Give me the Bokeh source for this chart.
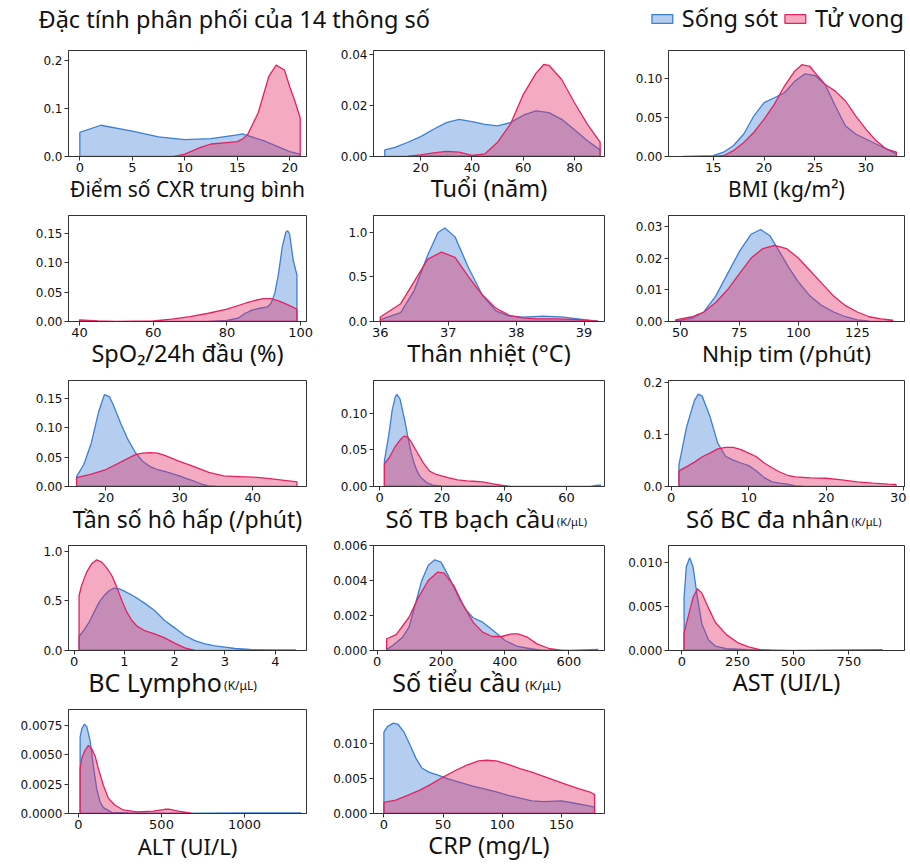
from bokeh.plotting import figure
from bokeh.models import Range1d, FixedTicker, Legend, LegendItem, Label, LinearAxis
from bokeh.layouts import column, row
from bokeh.embed import file_html
from bokeh.resources import INLINE

# ---------------- data ----------------
title_text = "Đặc tính phân phối của 14 thông số"
group_names = ["Sống sót", "Tử vong"]

# 1 CXR score
cxr_label = "Điểm số CXR trung bình"
cxr_xticks = [0, 5, 10, 15, 20]
cxr_yticks = [0.0, 0.1, 0.2]
cxr_ylabels = ["0.0", "0.1", "0.2"]
cxr_s_x = [0, 2, 5, 7.5, 10, 12.5, 15, 15.5, 17.5, 20, 21]
cxr_s_y = [0.05, 0.065, 0.053, 0.041, 0.035, 0.037, 0.045, 0.047, 0.033, 0.01, 0.005]
cxr_t_x = [9, 10, 11.5, 12.5, 14, 15, 15.5, 16, 17, 18, 18.7, 19.5, 20, 20.5, 21]
cxr_t_y = [0.0, 0.005, 0.019, 0.026, 0.029, 0.031, 0.036, 0.046, 0.091, 0.166, 0.19, 0.18, 0.145, 0.115, 0.08]

# 2 Age
age_label = "Tuổi (năm)"
age_xticks = [20, 40, 60, 80]
age_yticks = [0.0, 0.02, 0.04]
age_ylabels = ["0.00", "0.02", "0.04"]
age_s_x = [6, 10, 15, 20, 25, 30, 35, 40, 45, 50, 55, 60, 65, 70, 75, 80, 85, 90]
age_s_y = [0.0026, 0.0036, 0.0056, 0.0078, 0.0107, 0.0133, 0.0146, 0.0137, 0.0126, 0.012, 0.0133,
           0.0162, 0.0179, 0.0172, 0.0146, 0.0105, 0.0062, 0.0026]
age_t_x = [15, 20, 25, 30, 35, 40, 45, 50, 55, 60, 65, 68, 70, 75, 80, 85, 90]
age_t_y = [0.0001, 0.0006, 0.0014, 0.002, 0.0017, 0.0004, 0.001, 0.0056, 0.0127, 0.0243, 0.0327,
           0.0361, 0.0358, 0.0302, 0.0211, 0.0127, 0.0056]

# 3 BMI
bmi_label = "BMI (kg/m²)"
bmi_xticks = [15, 20, 25, 30]
bmi_yticks = [0.0, 0.05, 0.10]
bmi_ylabels = ["0.00", "0.05", "0.10"]
bmi_s_x = [12, 15, 16, 17, 18, 19, 20, 21, 22, 23, 24, 25, 26, 27, 28, 29, 30, 31, 32, 33]
bmi_s_y = [0.0, 0.001, 0.0055, 0.014, 0.0287, 0.052, 0.0688, 0.075, 0.0814, 0.096, 0.1055, 0.1034,
           0.092, 0.0646, 0.039, 0.0287, 0.0224, 0.016, 0.0097, 0.0034]
bmi_t_x = [15, 16, 17, 18, 19, 20, 21, 22, 23, 23.7, 24.5, 25, 26, 27, 28, 29, 30, 31, 32, 33]
bmi_t_y = [0.0, 0.001, 0.0076, 0.018, 0.031, 0.0477, 0.0667, 0.09, 0.109, 0.1173, 0.115, 0.107,
           0.092, 0.0835, 0.0709, 0.052, 0.035, 0.0203, 0.0097, 0.0055]

# 4 SpO2
spo2_label = "SpO₂/24h đầu (%)"
spo2_xticks = [40, 60, 80, 100]
spo2_yticks = [0.0, 0.05, 0.10, 0.15]
spo2_ylabels = ["0.00", "0.05", "0.10", "0.15"]
spo2_s_x = [75, 80, 83, 85, 87, 89, 91, 92, 93, 94, 95, 96, 96.5, 97, 98, 99]
spo2_s_y = [0.0, 0.0017, 0.0056, 0.014, 0.0197, 0.0225, 0.025, 0.031, 0.048, 0.081, 0.126, 0.152,
            0.154, 0.149, 0.104, 0.079]
spo2_t_x = [40, 45, 50, 55, 60, 65, 70, 75, 80, 85, 88, 90, 92, 94, 96, 98, 99]
spo2_t_y = [0.0028, 0.0011, 0.0, 0.0006, 0.0011, 0.004, 0.0084, 0.014, 0.021, 0.031, 0.0365, 0.039,
            0.039, 0.035, 0.03, 0.024, 0.0208]

# 5 Body temperature
temp_label = "Thân nhiệt (°C)"
temp_xticks = [36, 37, 38, 39]
temp_yticks = [0.0, 0.5, 1.0]
temp_ylabels = ["0.0", "0.5", "1.0"]
temp_s_x = [36.0, 36.3, 36.5, 36.7, 36.85, 36.95, 37.1, 37.3, 37.5, 37.7, 37.9, 38.1, 38.4, 38.7, 39.0, 39.2]
temp_s_y = [0.02, 0.1, 0.35, 0.75, 1.0, 1.05, 0.95, 0.6, 0.3, 0.12, 0.06, 0.05, 0.06, 0.05, 0.02, 0.005]
temp_t_x = [36.0, 36.3, 36.5, 36.7, 36.9, 37.1, 37.3, 37.5, 37.7, 37.9, 38.1, 38.3, 38.6, 38.9, 39.2]
temp_t_y = [0.05, 0.2, 0.45, 0.7, 0.78, 0.72, 0.5, 0.3, 0.15, 0.07, 0.04, 0.03, 0.03, 0.02, 0.005]

# 6 Heart rate
hr_label = "Nhịp tim (/phút)"
hr_xticks = [50, 75, 100, 125]
hr_yticks = [0.0, 0.01, 0.02, 0.03]
hr_ylabels = ["0.00", "0.01", "0.02", "0.03"]
hr_s_x = [48, 55, 60, 65, 70, 75, 80, 84, 88, 92, 96, 100, 105, 110, 115, 120, 125, 130]
hr_s_y = [0.0002, 0.001, 0.003, 0.008, 0.015, 0.022, 0.0275, 0.029, 0.027, 0.022, 0.017, 0.0125,
          0.008, 0.005, 0.003, 0.0015, 0.0005, 0.0001]
hr_t_x = [48, 55, 60, 65, 70, 75, 80, 85, 90, 95, 100, 105, 110, 115, 120, 125, 130, 135, 140]
hr_t_y = [0.0005, 0.0015, 0.003, 0.006, 0.01, 0.015, 0.02, 0.023, 0.024, 0.023, 0.02, 0.016, 0.012,
          0.008, 0.005, 0.003, 0.0015, 0.0008, 0.0004]

# 7 Respiratory rate
rr_label = "Tần số hô hấp (/phút)"
rr_xticks = [20, 30, 40]
rr_yticks = [0.0, 0.05, 0.10, 0.15]
rr_ylabels = ["0.00", "0.05", "0.10", "0.15"]
rr_s_x = [16, 17, 18, 19, 19.8, 20.5, 21, 22, 23, 24, 25, 26, 27, 28, 29, 30, 31, 32, 33, 34, 35]
rr_s_y = [0.0169, 0.038, 0.074, 0.1275, 0.157, 0.153, 0.139, 0.108, 0.08, 0.058, 0.043, 0.034, 0.029,
          0.026, 0.022, 0.018, 0.0135, 0.009, 0.004, 0.001, 0.0]
rr_t_x = [16, 18, 20, 22, 24, 25, 26, 27, 28, 30, 32, 34, 36, 38, 40, 42, 44, 46]
rr_t_y = [0.015, 0.021, 0.029, 0.0416, 0.0545, 0.057, 0.058, 0.057, 0.053, 0.043, 0.034, 0.024, 0.018,
          0.017, 0.016, 0.014, 0.011, 0.0079]

# 8 White blood cells
wbc_label = "Số TB bạch cầu"
wbc_xticks = [0, 20, 40, 60]
wbc_yticks = [0.0, 0.05, 0.10]
wbc_ylabels = ["0.00", "0.05", "0.10"]
wbc_s_x = [1.5, 3, 4, 5, 5.5, 6.5, 8, 9, 10, 11, 12, 13, 15, 17, 20, 30, 40, 50, 60, 68, 70, 71]
wbc_s_y = [0.0347, 0.073, 0.1045, 0.1225, 0.126, 0.12, 0.091, 0.0685, 0.048, 0.0324, 0.021, 0.0135,
           0.0054, 0.0018, 0.0005, 0.0, 0.0, 0.0, 0.0, 0.0005, 0.0018, 0.0018]
wbc_t_x = [1.5, 3, 5, 7, 8, 9, 10, 12, 14, 16, 18, 20, 22, 25, 28, 30, 33, 36, 39, 42]
wbc_t_y = [0.031, 0.039, 0.055, 0.066, 0.069, 0.0676, 0.0617, 0.0468, 0.0324, 0.021, 0.0167, 0.0144,
           0.0122, 0.009, 0.0077, 0.0072, 0.0063, 0.004, 0.0018, 0.0]

# 9 Neutrophils
neu_label = "Số BC đa nhân"
neu_xticks = [0, 10, 20, 30]
neu_yticks = [0.0, 0.1, 0.2]
neu_ylabels = ["0.0", "0.1", "0.2"]
neu_s_x = [1, 2, 3, 3.5, 4, 5, 6, 7, 8, 9, 10, 11, 12, 13, 14, 15, 16, 17]
neu_s_y = [0.042, 0.115, 0.165, 0.177, 0.173, 0.134, 0.083, 0.058, 0.0505, 0.045, 0.04, 0.0297, 0.017,
           0.0088, 0.0063, 0.0044, 0.0013, 0.0]
neu_t_x = [1, 2, 3, 4, 5, 6, 7, 8, 9, 10, 11, 12, 13, 14, 15, 16, 18, 20, 22, 24, 26, 28, 29]
neu_t_y = [0.03, 0.038, 0.0467, 0.057, 0.064, 0.072, 0.075, 0.075, 0.0707, 0.064, 0.057, 0.045, 0.036,
           0.0278, 0.0215, 0.0183, 0.0164, 0.0158, 0.0126, 0.0088, 0.0063, 0.0044, 0.0038]

# 10 Lymphocytes
lym_label = "BC Lympho"
lym_xticks = [0, 1, 2, 3, 4]
lym_yticks = [0.0, 0.5, 1.0]
lym_ylabels = ["0.0", "0.5", "1.0"]
lym_s_x = [0.1, 0.2, 0.3, 0.4, 0.5, 0.6, 0.7, 0.8, 0.9, 1.0, 1.2, 1.4, 1.6, 1.8, 2.0, 2.2, 2.4, 2.6,
           2.8, 3.0, 3.2, 3.5, 4.0, 4.4]
lym_s_y = [0.141, 0.208, 0.285, 0.386, 0.487, 0.554, 0.604, 0.628, 0.621, 0.597, 0.544, 0.477, 0.403,
           0.302, 0.228, 0.151, 0.1, 0.067, 0.047, 0.034, 0.02, 0.01, 0.007, 0.007]
lym_t_x = [0.1, 0.15, 0.25, 0.35, 0.45, 0.55, 0.65, 0.75, 0.85, 0.95, 1.05, 1.15, 1.25, 1.4, 1.6, 1.8,
           2.0, 2.2, 2.4]
lym_t_y = [0.554, 0.654, 0.789, 0.872, 0.913, 0.889, 0.832, 0.755, 0.638, 0.503, 0.386, 0.302, 0.245,
           0.201, 0.168, 0.1275, 0.074, 0.027, 0.0]

# 11 Platelets
plt_label = "Số tiểu cầu"
plt_xticks = [0, 200, 400, 600]
plt_yticks = [0.0, 0.002, 0.004, 0.006]
plt_ylabels = ["0.000", "0.002", "0.004", "0.006"]
plt_s_x = [30, 50, 80, 100, 120, 140, 160, 180, 200, 220, 240, 260, 280, 300, 330, 360, 400, 440, 480,
           520, 600, 690]
plt_s_y = [0.00005, 0.0003, 0.00076, 0.00133, 0.00267, 0.004, 0.00486, 0.00518, 0.00505, 0.00438,
           0.00362, 0.00286, 0.00229, 0.00187, 0.00162, 0.00118, 0.00057, 0.00023, 0.0001, 0.0, 0.0,
           0.00006]
plt_t_x = [30, 60, 100, 130, 160, 190, 210, 240, 270, 300, 330, 360, 390, 420, 440, 470, 500, 540, 580, 600]
plt_t_y = [0.00067, 0.00091, 0.0019, 0.00305, 0.004, 0.00448, 0.00442, 0.00371, 0.00257, 0.00162,
           0.00105, 0.0008, 0.0008, 0.00095, 0.00095, 0.00076, 0.00038, 0.0001, 0.0, 0.0]

# 12 AST
ast_label = "AST (UI/L)"
ast_xticks = [0, 250, 500, 750]
ast_yticks = [0.0, 0.005, 0.010]
ast_ylabels = ["0.000", "0.005", "0.010"]
ast_s_x = [10, 20, 35, 50, 70, 90, 120, 150, 200, 300, 500, 900]
ast_s_y = [0.006, 0.0095, 0.0105, 0.0095, 0.006, 0.003, 0.0012, 0.0005, 0.0002, 0.0001, 0.0, 0.0001]
ast_t_x = [10, 30, 50, 70, 90, 120, 150, 200, 250, 300, 350, 400]
ast_t_y = [0.002, 0.004, 0.006, 0.007, 0.0065, 0.0048, 0.0032, 0.0018, 0.0009, 0.0004, 0.0001, 0.0]

# 13 ALT
alt_label = "ALT (UI/L)"
alt_xticks = [0, 500, 1000]
alt_yticks = [0.0, 0.0025, 0.005, 0.0075]
alt_ylabels = ["0.0000", "0.0025", "0.0050", "0.0075"]
alt_s_x = [10, 20, 35, 50, 70, 90, 110, 130, 150, 200, 300, 500, 1000, 1340]
alt_s_y = [0.0065, 0.0072, 0.0076, 0.0074, 0.0062, 0.004, 0.0021, 0.001, 0.0005, 0.0001, 0.00005,
           0.0, 0.00005, 0.00005]
alt_t_x = [10, 20, 40, 60, 80, 100, 120, 150, 180, 220, 270, 350, 450, 520, 550, 600, 680]
alt_t_y = [0.0038, 0.0047, 0.0054, 0.0058, 0.0055, 0.0049, 0.0038, 0.0024, 0.0013, 0.0007, 0.0003,
           0.00014, 0.0002, 0.00036, 0.00036, 0.0002, 0.00003]

# 14 CRP
crp_label = "CRP (mg/L)"
crp_xticks = [0, 50, 100, 150]
crp_yticks = [0.0, 0.005, 0.010]
crp_ylabels = ["0.000", "0.005", "0.010"]
crp_s_x = [0, 3, 8, 12, 17, 22, 27, 32, 38, 45, 55, 65, 75, 85, 95, 105, 115, 125, 135, 150, 160, 170, 178]
crp_s_y = [0.0116, 0.0124, 0.0129, 0.0127, 0.0116, 0.0098, 0.0079, 0.0065, 0.0059, 0.0055, 0.0049,
           0.0044, 0.0039, 0.0035, 0.0031, 0.0026, 0.0022, 0.0018, 0.0017, 0.0018, 0.0015, 0.0012, 0.0009]
crp_t_x = [0, 10, 20, 30, 40, 50, 60, 70, 80, 87, 95, 105, 115, 125, 135, 145, 155, 165, 175, 178]
crp_t_y = [0.0016, 0.0019, 0.0026, 0.0033, 0.0042, 0.0052, 0.0061, 0.0069, 0.0075, 0.0076, 0.0075,
           0.007, 0.0064, 0.0059, 0.0053, 0.0047, 0.0041, 0.0035, 0.003, 0.0027]

unit_text = "(K/μL)"

# ---------------- style ----------------
BLUE = "#3d7fd4"
RED = "#e3235f"
FILL_ALPHA = 0.38
TICK_FONT = "DejaVu Sans"
LABEL_FONT = "Noto Sans"
NBSP = "\u00a0"

# panel: (label, label px size, unit spec (main pad, unit pad, unit px) or None,
#         x range, y range, xticks, yticks, ylabels, sx, sy, tx, ty)
panels = [
    (cxr_label, 21, None, (-1.08, 21.6), (0, 0.2205), cxr_xticks, cxr_yticks, cxr_ylabels, cxr_s_x, cxr_s_y, cxr_t_x, cxr_t_y),
    (age_label, 23.5, None, (1.6, 91.7), (0, 0.0416), age_xticks, age_yticks, age_ylabels, age_s_x, age_s_y, age_t_x, age_t_y),
    (bmi_label, 21, None, (10.6, 33.8), (0, 0.1354), bmi_xticks, bmi_yticks, bmi_ylabels, bmi_s_x, bmi_s_y, bmi_t_x, bmi_t_y),
    (spo2_label, 23.5, None, (37, 101.6), (0, 0.18), spo2_xticks, spo2_yticks, spo2_ylabels, spo2_s_x, spo2_s_y, spo2_t_x, spo2_t_y),
    (temp_label, 23.5, None, (35.9, 39.3), (0, 1.19), temp_xticks, temp_yticks, temp_ylabels, temp_s_x, temp_s_y, temp_t_x, temp_t_y),
    (hr_label, 22.5, None, (45, 145), (0, 0.0334), hr_xticks, hr_yticks, hr_ylabels, hr_s_x, hr_s_y, hr_t_x, hr_t_y),
    (rr_label, 23, None, (14.9, 47.3), (0, 0.181), rr_xticks, rr_yticks, rr_ylabels, rr_s_x, rr_s_y, rr_t_x, rr_t_y),
    (wbc_label, 24, (6, 58, 11), (-2, 72.2), (0, 0.145), wbc_xticks, wbc_yticks, wbc_ylabels, wbc_s_x, wbc_s_y, wbc_t_x, wbc_t_y),
    (neu_label, 24, (6, 56, 11), (-0.35, 30.1), (0, 0.203), neu_xticks, neu_yticks, neu_ylabels, neu_s_x, neu_s_y, neu_t_x, neu_t_y),
    (lym_label, 25, (10, 34, 12), (-0.11, 4.62), (0, 1.057), lym_xticks, lym_yticks, lym_ylabels, lym_s_x, lym_s_y, lym_t_x, lym_t_y),
    (plt_label, 25, (10, 32, 13), (-11, 711), (0, 0.006), plt_xticks, plt_yticks, plt_ylabels, plt_s_x, plt_s_y, plt_t_x, plt_t_y),
    (ast_label, 23.5, None, (-60, 1000), (0, 0.0119), ast_xticks, ast_yticks, ast_ylabels, ast_s_x, ast_s_y, ast_t_x, ast_t_y),
    (alt_label, 22, None, (-60, 1373), (0, 0.00885), alt_xticks, alt_yticks, alt_ylabels, alt_s_x, alt_s_y, alt_t_x, alt_t_y),
    (crp_label, 23.5, None, (-8.8, 186.4), (0, 0.01484), crp_xticks, crp_yticks, crp_ylabels, crp_s_x, crp_s_y, crp_t_x, crp_t_y),
]

col_widths = [313, 295, 298]
col_left = [68, 60, 60]
col_right = [7, 4, 2]
row_heights = [165, 165, 165, 164, 162]
TOP = 8
FRAME_H = 106
HEADER_H = 42


def area(p, xs, ys, color):
    px = list(xs) + [xs[-1], xs[0]]
    py = list(ys) + [0, 0]
    p.patch(px, py, fill_color=color, fill_alpha=FILL_ALPHA, line_color=color, line_width=1.3)


def style_label(ax, size):
    ax.axis_label_text_font = LABEL_FONT
    ax.axis_label_text_font_size = "%gpx" % size
    ax.axis_label_text_font_style = "normal"
    ax.axis_label_text_color = "#111111"


def make_panel(idx, spec):
    (label, fs, unit, xr, yr, xt, yt, yl, sx, sy, tx, ty) = spec
    r, c = divmod(idx, 3)
    h = row_heights[r]
    w = col_widths[c]
    p = figure(width=w, height=h, x_range=Range1d(*xr), y_range=Range1d(*yr),
               output_backend="svg", toolbar_location=None,
               min_border_left=col_left[c], min_border_right=col_right[c],
               min_border_top=TOP, min_border_bottom=h - TOP - FRAME_H)
    p.xgrid.visible = False
    p.ygrid.visible = False
    p.outline_line_color = "#333333"
    p.outline_line_width = 1
    p.background_fill_color = "white"
    area(p, sx, sy, BLUE)
    area(p, tx, ty, RED)
    for ax, ts in ((p.xaxis[0], "13px"), (p.yaxis[0], "12px")):
        ax.axis_line_color = "#333333"
        ax.major_tick_line_color = "#333333"
        ax.major_tick_in = 0
        ax.major_tick_out = 4
        ax.minor_tick_line_color = None
        ax.major_label_text_font = TICK_FONT
        ax.major_label_text_font_size = ts
        ax.major_label_text_color = "#111111"
        ax.major_label_standoff = 2
    p.xaxis.ticker = FixedTicker(ticks=xt)
    p.yaxis.ticker = FixedTicker(ticks=yt)
    p.yaxis.major_label_overrides = {v: s for v, s in zip(yt, yl)}
    xa = p.xaxis[0]
    style_label(xa, fs)
    xa.axis_label_standoff = -int(round((fs - 21) * 1.1))
    if unit is None:
        xa.axis_label = label
    else:
        n_main, n_unit, ufs = unit
        xa.axis_label = label + NBSP * n_main
        ua = LinearAxis(ticker=FixedTicker(ticks=[]), axis_line_color=None,
                        major_tick_line_color=None, minor_tick_line_color=None,
                        axis_label=NBSP * n_unit + unit_text, axis_label_standoff=-24 - (ufs - 11))
        style_label(ua, ufs)
        p.add_layout(ua, "below")
    return p


figs = [make_panel(i, s) for i, s in enumerate(panels)]

# header with title and legend
header = figure(width=sum(col_widths), height=HEADER_H, x_range=Range1d(0, 1), y_range=Range1d(0, 1),
                output_backend="svg", toolbar_location=None, x_axis_location=None,
                y_axis_location=None, min_border=0)
header.xgrid.visible = False
header.ygrid.visible = False
header.outline_line_color = None
# legend proxies (kept outside the visible range; only their legend swatches show)
rb = header.quad(left=[-3], right=[-2], top=[-2], bottom=[-3], fill_color=BLUE,
                 fill_alpha=FILL_ALPHA, line_color=BLUE, line_width=1.3)
rt = header.quad(left=[-3], right=[-2], top=[-2], bottom=[-3], fill_color=RED,
                 fill_alpha=FILL_ALPHA, line_color=RED, line_width=1.3)
legend = Legend(items=[LegendItem(label=group_names[0], renderers=[rb]),
                       LegendItem(label=group_names[1], renderers=[rt])],
                location="top_right", orientation="horizontal",
                label_text_font=LABEL_FONT, label_text_font_size="23.5px", label_text_color="#111111",
                glyph_width=26, glyph_height=11, label_standoff=7, spacing=4,
                padding=0, margin=2, border_line_alpha=0, background_fill_alpha=0)
header.add_layout(legend)
header.add_layout(Label(x=38, y=24, x_units="screen", y_units="screen", text=title_text,
                        text_baseline="middle", text_font=LABEL_FONT, text_font_size="23.5px",
                        text_color="#111111"))

rows = [header]
for r in range(5):
    rows.append(row(*figs[r * 3:(r + 1) * 3]))
layout = column(*rows)

open("out.html", "w").write(file_html(layout, INLINE))
